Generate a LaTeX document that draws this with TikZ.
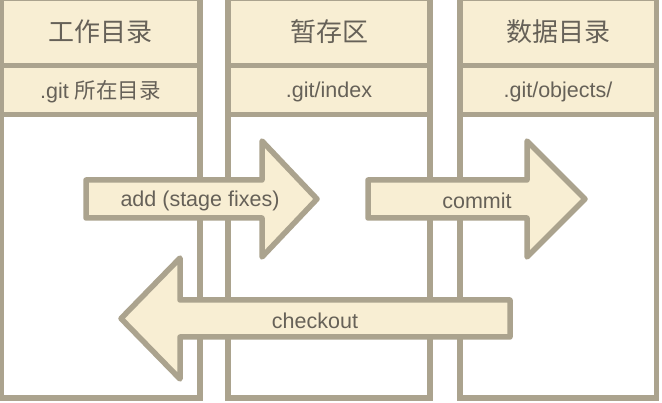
\documentclass[tikz,border=0pt]{standalone}
\usepackage{fontspec}
\setmainfont{Liberation Sans}
\newfontfamily\cjk{Noto Sans CJK SC}
\definecolor{cellfill}{RGB}{248,238,211}
\definecolor{cellline}{RGB}{171,163,142}
\definecolor{txtgrey}{RGB}{102,97,88}

\begin{document}
\begin{tikzpicture}[x=1pt, y=-1pt, line width=5.5pt,
    cell/.style={draw=cellline, fill=cellfill},
    bodycell/.style={draw=cellline, fill=white},
    flow/.style={draw=cellline, fill=cellfill, line join=round},
    title/.style={text=txtgrey, font=\fontsize{26}{30}\selectfont\cjk},
    sub/.style={text=txtgrey, font=\fontsize{21.5}{26}\selectfont},
    ]
    \useasboundingbox (0,0) rectangle (662,403);
    % rows of each column
    \def\ytop{-2}
    \def\yone{65.5}
    \def\ytwo{114.5}
    \def\ybot{398}
    % working directory
    \draw[bodycell] (1,\ytwo) rectangle (200,\ybot);
    \draw[cell] (1,\ytop) rectangle (200,\yone);
    \draw[cell] (1,\yone) rectangle (200,\ytwo);
    % staging area
    \draw[bodycell] (228,\ytwo) rectangle (430,\ybot);
    \draw[cell] (228,\ytop) rectangle (430,\yone);
    \draw[cell] (228,\yone) rectangle (430,\ytwo);
    % repository
    \draw[bodycell] (460,\ytwo) rectangle (656.5,\ybot);
    \draw[cell] (460,\ytop) rectangle (656.5,\yone);
    \draw[cell] (460,\yone) rectangle (656.5,\ytwo);
    \node[title] (workT) at (100.5,32) {工作目录};
    \node[title] (stageT) at (329,32) {暂存区};
    \node[title] (repoT) at (558,32) {数据目录};
    \node[sub] (workS) at (100.5,92) {.git {\cjk 所在目录}};
    \node[sub] (stageS) at (329,92) {.git/index};
    \node[sub] (repoS) at (558,92) {.git/objects/};
    % arrows
    \draw[flow] (86,180) -- (262,180) -- (262,141) -- (317,199) -- (262,257) -- (262,218) -- (86,218) -- cycle;
    \draw[flow] (368,180) -- (527,180) -- (527,141) -- (585,199) -- (527,257) -- (527,218) -- (368,218) -- cycle;
    \draw[flow] (510,300) -- (180,300) -- (180,258) -- (121,318.5) -- (180,379) -- (180,337) -- (510,337) -- cycle;
    \node[sub] (addL) at (200,201) {add (stage fixes)};
    \node[sub] (commitL) at (477,201) {commit};
    \node[sub] (checkoutL) at (315,320.5) {checkout};
\end{tikzpicture}
\end{document}
